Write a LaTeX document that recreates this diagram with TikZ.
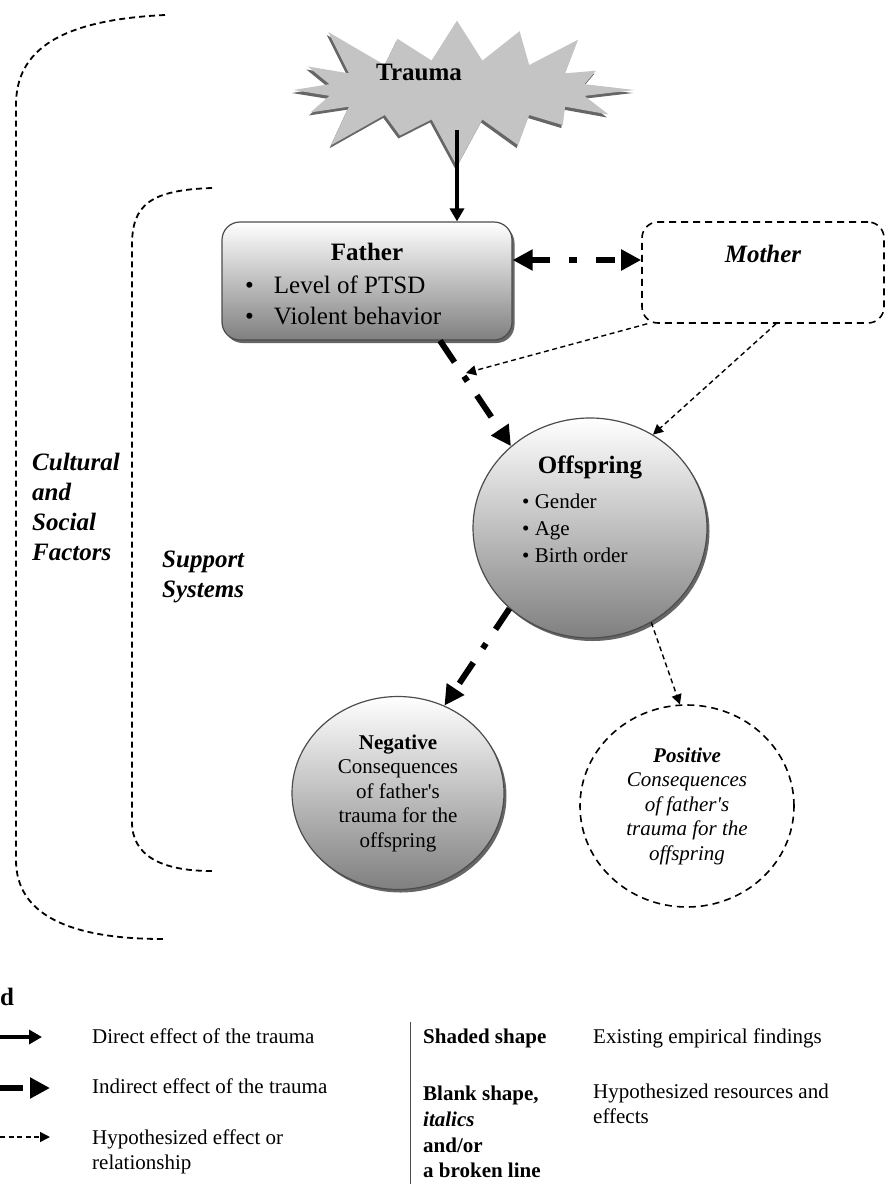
\documentclass[tikz,border=0pt]{standalone}
\usepackage{fontspec}
\setmainfont{Liberation Serif}
\usepackage{tikz}
\usetikzlibrary{shapes.geometric,shapes.symbols,arrows.meta}
\usetikzlibrary{positioning}
\usetikzlibrary{shadows}
\definecolor{rim}{gray}{0.3}
\definecolor{lowgray}{gray}{0.5}
\definecolor{burst}{gray}{0.77}
\newcommand{\bigfont}{\fontsize{25}{31}\selectfont}
\newcommand{\sidefont}{\fontsize{25}{30}\selectfont}
\newcommand{\midfont}{\fontsize{21}{27}\selectfont}
\newcommand{\ovalfont}{\fontsize{21}{24.5}\selectfont}
\newcommand{\keyfont}{\fontsize{21}{25}\selectfont}
\tikzstyle{shaded box} = [rectangle, rounded corners=18pt, draw=rim, line width=1.2pt,
    top color=white, bottom color=lowgray,
    drop shadow={shadow xshift=2.5pt, shadow yshift=-3pt, fill=black!60, opacity=1}]
\tikzstyle{blank box} = [rectangle, rounded corners=16pt, draw, line width=1.6pt,
    dash pattern=on 7pt off 5pt]
\tikzstyle{shaded oval} = [ellipse, draw=rim, line width=1.2pt, inner sep=2pt,
    top color=white, bottom color=lowgray,
    drop shadow={shadow xshift=2.5pt, shadow yshift=-3pt, fill=black!60, opacity=1}]
\tikzstyle{blank oval} = [ellipse, draw, line width=1.6pt, inner sep=2pt,
    dash pattern=on 7pt off 5pt]
\tikzstyle{bracket} = [draw, line width=1.8pt, dash pattern=on 6pt off 4pt]
\tikzstyle{direct} = [draw, line width=3.5pt, >={Triangle[length=13pt,width=14pt]}, ->]
\tikzstyle{indirect} = [draw, line width=6pt, dash pattern=on 26pt off 17pt on 6pt off 17pt,
    >={Triangle[length=20pt,width=20pt]}, ->]
\tikzstyle{hypo} = [draw, line width=1.4pt, dash pattern=on 5pt off 3.5pt,
    >={Triangle[length=10pt,width=10pt]}, ->]
\tikzstyle{keytext} = [anchor=base west, inner sep=0pt, font=\keyfont]

\begin{document}
\begin{tikzpicture}[x=1pt, y=-1pt]
  \useasboundingbox (0,0) rectangle (887,1184);
  % Brackets
  \path [bracket] (165,15) .. controls (60,20) and (16,50) .. (16,105) -- (16,860)
    .. controls (16,915) and (70,939) .. (163,939);
  \path [bracket] (212,188) .. controls (150,190) and (132,205) .. (132,245) -- (132,822)
    .. controls (132,855) and (160,871) .. (212,871);
  \node [anchor=north west, align=left, inner sep=0pt, font=\sidefont\bfseries\itshape]
    (cultural) at (32,453) {Cultural\\and\\Social\\Factors};
  \node [anchor=north west, align=left, inner sep=0pt, font=\sidefont\bfseries\itshape]
    (support) at (162,551) {Support\\Systems};
  % Place nodes
  \node [starburst, starburst points=16, starburst point height=55pt, fill=burst,
    minimum width=370pt, minimum height=170pt,
    drop shadow={shadow xshift=-1.5pt, shadow yshift=-3pt, fill=black!60, opacity=1}]
    (trauma) at (457,90) {};
  \node [anchor=base, font=\bigfont\bfseries] (traumatxt) at (419,80) {Trauma};
  \node [shaded box, minimum width=290pt, minimum height=118pt] (father) at (367,281) {};
  \node [anchor=base, font=\bigfont\bfseries] (fathertxt) at (367,260) {Father};
  \node [anchor=north west, align=left, inner sep=0pt, font=\bigfont] (fatherlist) at (245,276)
    {\textbullet\hspace{20pt}Level of PTSD\\\textbullet\hspace{20pt}Violent behavior};
  \node [blank box, minimum width=242pt, minimum height=101pt] (mother) at (763,272.5) {};
  \node [anchor=base, font=\bigfont\bfseries\itshape] (mothertxt) at (763,262) {Mother};
  \node [shaded oval, minimum width=234pt, minimum height=220pt] (offspring) at (590,528) {};
  \node [anchor=base, font=\bigfont\bfseries] (offspringtxt) at (590,473) {Offspring};
  \node [anchor=north west, align=left, inner sep=0pt, font=\midfont] (offspringlist) at (522,494)
    {\textbullet\ Gender\\\textbullet\ Age\\\textbullet\ Birth order};
  \node [shaded oval, minimum width=212pt, minimum height=193pt, align=center, font=\ovalfont]
    (negative) at (398,793)
    {\textbf{Negative}\\Consequences\\of father\textquotesingle s\\trauma for the\\offspring};
  \node [blank oval, minimum width=214pt, minimum height=202pt, align=center, font=\ovalfont\itshape]
    (positive) at (687,806)
    {\textbf{Positive}\\Consequences\\of father\textquotesingle s\\trauma for the\\offspring};
  % Draw edges
  \path [direct] ([yshift=-40pt]trauma.center) -- (trauma.center |- father.north);
  \path [indirect, <->, dash pattern=on 19pt off 19pt on 8pt off 19pt]
    ([yshift=21pt]father.east) -- ([yshift=21pt]father.east -| mother.west);
  \path [indirect] ([xshift=73pt]father.south) -- (offspring.134);
  \coordinate (joint) at (466,373);
  \path [hypo] ([xshift=6pt]mother.south west) -- (joint);
  \path [hypo] ([xshift=13pt]mother.south) -- (offspring.56);
  \path [indirect, dash pattern=on 25pt off 17pt on 6pt off 17pt] (offspring.225) -- (negative.62);
  \path [hypo] (offspring.303) -- (positive.94);
  % Legend
  \node [anchor=base west, inner sep=0pt, font=\bigfont\bfseries] (legendhead) at (0,1005) {d};
  \coordinate (key1a) at (0,1037);   \coordinate (key1b) at (42,1037);
  \coordinate (key2a) at (0,1088);   \coordinate (key2b) at (50,1088);
  \coordinate (key3a) at (0,1137);   \coordinate (key3b) at (50,1137);
  \path [direct] (key1a) -- (key1b);
  \path [indirect, dash pattern=on 23pt off 10pt] (key2a) -- (key2b);
  \path [hypo] (key3a) -- (key3b);
  \node [keytext] (key1) at (92,1043) {Direct effect of the trauma};
  \node [keytext] (key2) at (92,1093) {Indirect effect of the trauma};
  \node [keytext, anchor=north west, align=left] (key3) at (92,1129) {Hypothesized effect or\\relationship};
  \coordinate (divtop) at (410,1022); \coordinate (divbot) at (410,1184);
  \draw [rim, line width=1pt] (divtop) -- (divbot);
  \node [keytext, font=\keyfont\bfseries] (shaded) at (423,1043) {Shaded shape};
  \node [keytext] (shadedtxt) at (593,1043) {Existing empirical findings};
  \node [keytext, anchor=north west, align=left, font=\fontsize{21}{25.7}\selectfont\bfseries]
    (blank) at (423,1086) {Blank shape,\\\textit{italics}\\and/or\\a broken line};
  \node [keytext, anchor=north west, align=left] (blanktxt) at (593,1084)
    {Hypothesized resources and\\effects};
\end{tikzpicture}
\end{document}
